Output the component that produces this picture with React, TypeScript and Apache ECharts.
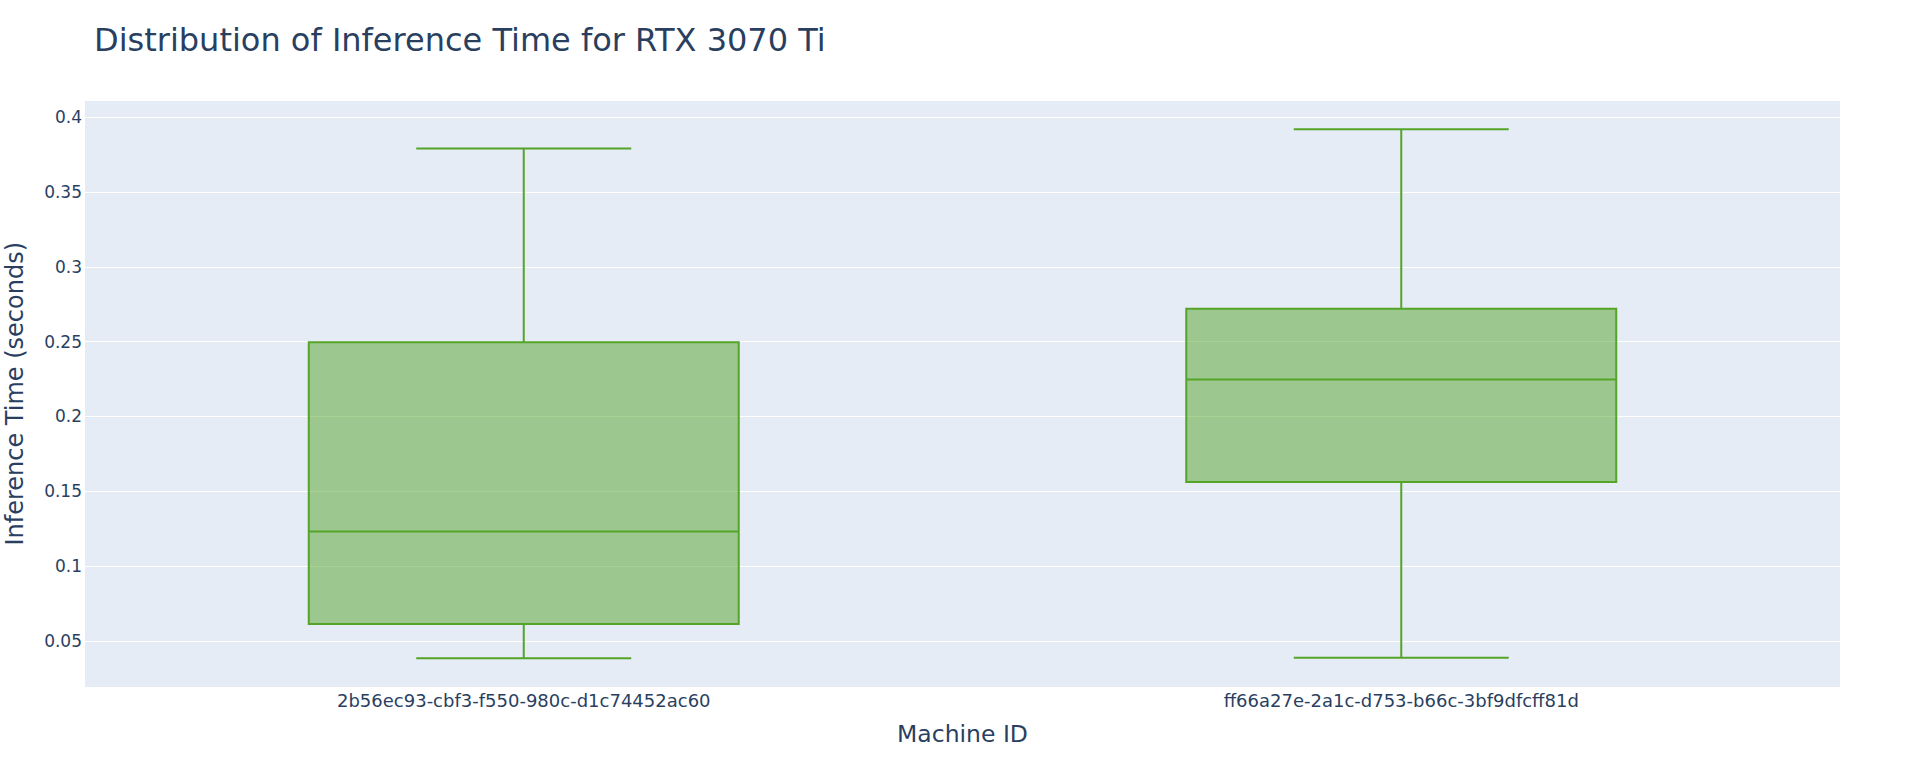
import React, { useEffect, useRef } from "react";
import * as echarts from "echarts";

const machineIds = [
  "2b56ec93-cbf3-f550-980c-d1c74452ac60",
  "ff66a27e-2a1c-d753-b66c-3bf9dfcff81d",
];
const lowerFence = [0.0384, 0.0387];
const q1 = [0.0612, 0.1561];
const median = [0.1231, 0.2246];
const q3 = [0.2495, 0.2719];
const upperFence = [0.379, 0.392];
const yRange = [0.0188, 0.4115];

const FONT = '"DejaVu Sans", Verdana, sans-serif';
const TEXT = "#2a3f5f";
const LINE = "rgb(84,164,40)";
const FILL = "rgba(84,164,40,0.5)";

export default function App() {
  const ref = useRef<HTMLDivElement>(null);

  useEffect(() => {
    const chart = echarts.init(ref.current!, null, { renderer: "svg" });
    const data = machineIds.map((_, i) => [
      i,
      lowerFence[i],
      q1[i],
      median[i],
      q3[i],
      upperFence[i],
    ]);

    chart.setOption({
      animation: false,
      backgroundColor: "#ffffff",
      textStyle: { fontFamily: FONT },
      title: {
        text: "Distribution of Inference Time for RTX 3070 Ti",
        left: 94,
        top: 24,
        padding: 0,
        textStyle: {
          fontFamily: FONT,
          fontSize: 32,
          fontWeight: "normal",
          color: TEXT,
        },
      },
      grid: {
        left: 85,
        top: 100,
        width: 1755,
        height: 587.5,
        show: true,
        backgroundColor: "#E5ECF6",
        borderWidth: 0,
        containLabel: false,
        outerBoundsMode: "none",
      },
      xAxis: {
        type: "category",
        data: machineIds,
        boundaryGap: true,
        axisLine: { show: false },
        axisTick: { show: false },
        splitLine: { show: false },
        axisLabel: {
          fontFamily: FONT,
          fontSize: 18,
          color: TEXT,
          margin: 4,
        },
        name: "Machine ID",
        nameLocation: "middle",
        nameGap: 34,
        nameTextStyle: { fontFamily: FONT, fontSize: 23.5, color: TEXT },
      },
      yAxis: {
        type: "value",
        min: yRange[0],
        max: yRange[1],
        splitNumber: 8,
        axisLine: { show: false },
        axisTick: { show: false },
        splitLine: { show: true, lineStyle: { color: "#ffffff", width: 1 } },
        axisLabel: {
          fontFamily: FONT,
          fontSize: 17,
          color: TEXT,
          margin: 3,
          showMinLabel: false,
          showMaxLabel: false,
        },
        name: "Inference Time (seconds)",
        nameLocation: "middle",
        nameRotate: 90,
        nameGap: 58,
        nameTextStyle: { fontFamily: FONT, fontSize: 24, color: TEXT },
      },
      series: [
        {
          type: "custom",
          data,
          encode: { x: 0, y: [1, 2, 3, 4, 5] },
          renderItem: (params: any, api: any) => {
            const i = api.value(0);
            const lo = api.value(1);
            const a = api.value(2);
            const m = api.value(3);
            const b = api.value(4);
            const hi = api.value(5);
            const band = api.size([1, 0])[0];
            const bw = band * 0.49;
            const cw = bw * 0.5;
            const cx = api.coord([i, m])[0];
            const yLo = api.coord([i, lo])[1];
            const yA = api.coord([i, a])[1];
            const yM = api.coord([i, m])[1];
            const yB = api.coord([i, b])[1];
            const yHi = api.coord([i, hi])[1];
            const ls = { stroke: LINE, lineWidth: 2, fill: "none" };
            return {
              type: "group",
              children: [
                {
                  type: "rect",
                  shape: { x: cx - bw / 2, y: yB, width: bw, height: yA - yB },
                  style: { fill: FILL, stroke: LINE, lineWidth: 2 },
                },
                {
                  type: "line",
                  shape: { x1: cx - bw / 2, y1: yM, x2: cx + bw / 2, y2: yM },
                  style: ls,
                },
                {
                  type: "line",
                  shape: { x1: cx, y1: yB, x2: cx, y2: yHi },
                  style: ls,
                },
                {
                  type: "line",
                  shape: { x1: cx, y1: yA, x2: cx, y2: yLo },
                  style: ls,
                },
                {
                  type: "line",
                  shape: { x1: cx - cw / 2, y1: yHi, x2: cx + cw / 2, y2: yHi },
                  style: ls,
                },
                {
                  type: "line",
                  shape: { x1: cx - cw / 2, y1: yLo, x2: cx + cw / 2, y2: yLo },
                  style: ls,
                },
              ],
            };
          },
        },
      ],
    });

    return () => chart.dispose();
  }, []);

  return (
    <div
      ref={ref}
      style={{ position: "fixed", left: 0, top: 0, width: 1920, height: 768 }}
    />
  );
}
